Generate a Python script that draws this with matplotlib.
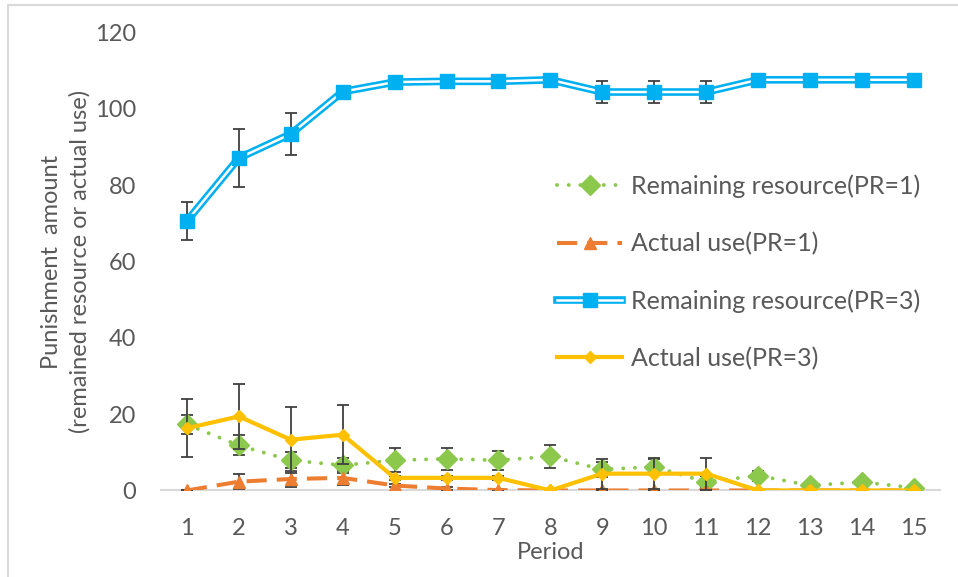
import matplotlib
matplotlib.use("Agg")
import matplotlib.pyplot as plt
from matplotlib.lines import Line2D
from matplotlib.legend_handler import HandlerTuple

periods = list(range(1, 16))

remaining_pr1 = [17.3, 11.8, 7.9, 6.6, 7.9, 8.3, 7.9, 8.9, 5.5, 6.2, 2.2, 3.9, 1.3, 2.2, 0.7]
remaining_pr1_err = [2.6, 2.6, 2.1, 2.0, 3.1, 2.9, 2.5, 2.9, 2.0, 2.0, 1.5, 1.3, 0.5, 0.8, 0.3]

actual_pr1 = [0.0, 2.3, 3.0, 3.3, 1.3, 0.5, 0.1, 0.0, 0.0, 0.0, 0.0, 0.0, 0.0, 0.0, 0.0]
actual_pr1_err = [0.0, 2.0, 2.2, 1.8, 0.5, 0.5, 0.3, 0.0, 0.0, 0.0, 0.0, 0.0, 0.0, 0.0, 0.0]

remaining_pr3 = [70.6, 87.1, 93.4, 104.5, 107.0, 107.2, 107.2, 107.6, 104.4, 104.4, 104.4,
                 107.6, 107.6, 107.6, 107.6]
remaining_pr3_err = [5.0, 7.6, 5.6, 0.8, 0.8, 0.8, 0.8, 0.8, 3.0, 3.0, 3.0, 0.5, 0.5, 0.5, 0.5]

actual_pr3 = [16.3, 19.4, 13.3, 14.6, 3.3, 3.3, 3.3, 0.0, 4.4, 4.4, 4.4, 0.0, 0.0, 0.0, 0.0]
actual_pr3_err = [7.6, 8.6, 8.6, 7.7, 0.5, 0.5, 0.5, 0.0, 3.9, 4.0, 4.2, 0.0, 0.0, 0.0, 0.0]

y_ticks = [0, 20, 40, 60, 80, 100, 120]

GREEN = "#8CC84B"
ORANGE = "#ED7D31"
BLUE = "#00B0F0"
GOLD = "#FFC000"
ERR = "#404040"
TEXT = "#595959"

plt.rcParams["font.family"] = ["Lato", "DejaVu Sans"]

fig = plt.figure(figsize=(9.58, 5.77), dpi=100)
ax = fig.add_axes([0.168, 0.150, 0.813, 0.7937])

ebkw = dict(fmt="none", ecolor=ERR, elinewidth=1.3, capsize=4.5, capthick=1.3)

# Remaining resource (PR=1)
ax.errorbar(periods, remaining_pr1, yerr=remaining_pr1_err, zorder=3, **ebkw)
ax.plot(periods, remaining_pr1, color=GREEN, lw=2.8, linestyle=(0, (0.01, 3.0)),
        dash_capstyle="round", marker="D", markersize=10, zorder=4)

# Actual use (PR=1)
ax.errorbar(periods, actual_pr1, yerr=actual_pr1_err, zorder=3, **ebkw)
ax.plot(periods, actual_pr1, color=ORANGE, lw=2.9, linestyle=(0, (5, 2.5)),
        marker="^", markersize=9, zorder=4)

# Remaining resource (PR=3): double line
ax.errorbar(periods, remaining_pr3, yerr=remaining_pr3_err, zorder=5, **ebkw)
ax.plot(periods, remaining_pr3, color=BLUE, lw=5.5, solid_joinstyle="miter", zorder=6)
ax.plot(periods, remaining_pr3, color="white", lw=1.8, solid_joinstyle="miter", zorder=6)
ax.plot(periods, remaining_pr3, linestyle="none", marker="s", markersize=10,
        color=BLUE, zorder=7)

# Actual use (PR=3)
ax.errorbar(periods, actual_pr3, yerr=actual_pr3_err, zorder=7, **ebkw)
ax.plot(periods, actual_pr3, color=GOLD, lw=3.0, marker="D", markersize=6, zorder=8)

ax.set_xlim(0.5, 15.5)
ax.set_ylim(0, 120)
ax.set_xticks(periods)
ax.set_yticks(y_ticks)
ax.tick_params(axis="both", length=0, labelsize=17, labelcolor=TEXT)
ax.tick_params(axis="y", pad=18)
ax.tick_params(axis="x", pad=20)
for side in ["left", "right", "top"]:
    ax.spines[side].set_visible(False)
ax.spines["bottom"].set_color("#D9D9D9")
ax.spines["bottom"].set_linewidth(1.5)

ax.set_xlabel("Period", fontsize=17, color=TEXT, labelpad=2)
ax.set_ylabel("Punishment  amount\n(remained resource or actual use)", fontsize=17,
              color=TEXT, labelpad=3, linespacing=1.4)

h_green = Line2D([], [], color=GREEN, lw=2.8, linestyle=(0, (0.01, 3.0)),
                 dash_capstyle="round", marker="D", markersize=10)
h_orange = Line2D([], [], color=ORANGE, lw=2.9, linestyle=(0, (5, 2.5)),
                  marker="^", markersize=9)
h_blue = (Line2D([], [], color=BLUE, lw=5.5),
          Line2D([], [], color="white", lw=1.8),
          Line2D([], [], color=BLUE, linestyle="none", marker="s", markersize=10))
h_gold = Line2D([], [], color=GOLD, lw=3.0, marker="D", markersize=6)

leg = ax.legend([h_green, h_orange, h_blue, h_gold],
                ["Remaining resource(PR=1)", "Actual use(PR=1)",
                 "Remaining resource(PR=3)", "Actual use(PR=3)"],
                handler_map={tuple: HandlerTuple(ndivide=1)},
                loc="upper left", bbox_to_anchor=(0.496, 0.712),
                frameon=False, fontsize=18, handlelength=2.6, handletextpad=0.35,
                labelspacing=1.36, labelcolor=TEXT, borderaxespad=0)

# light outer frame
fig.add_artist(Line2D([8 / 958, 8 / 958], [0, 1 - 5 / 577], transform=fig.transFigure,
                      color="#D9D9D9", lw=1.5))
fig.add_artist(Line2D([8 / 958, 1], [1 - 5 / 577, 1 - 5 / 577], transform=fig.transFigure,
                      color="#D9D9D9", lw=1.5))

fig.savefig("out.png", dpi=100)
